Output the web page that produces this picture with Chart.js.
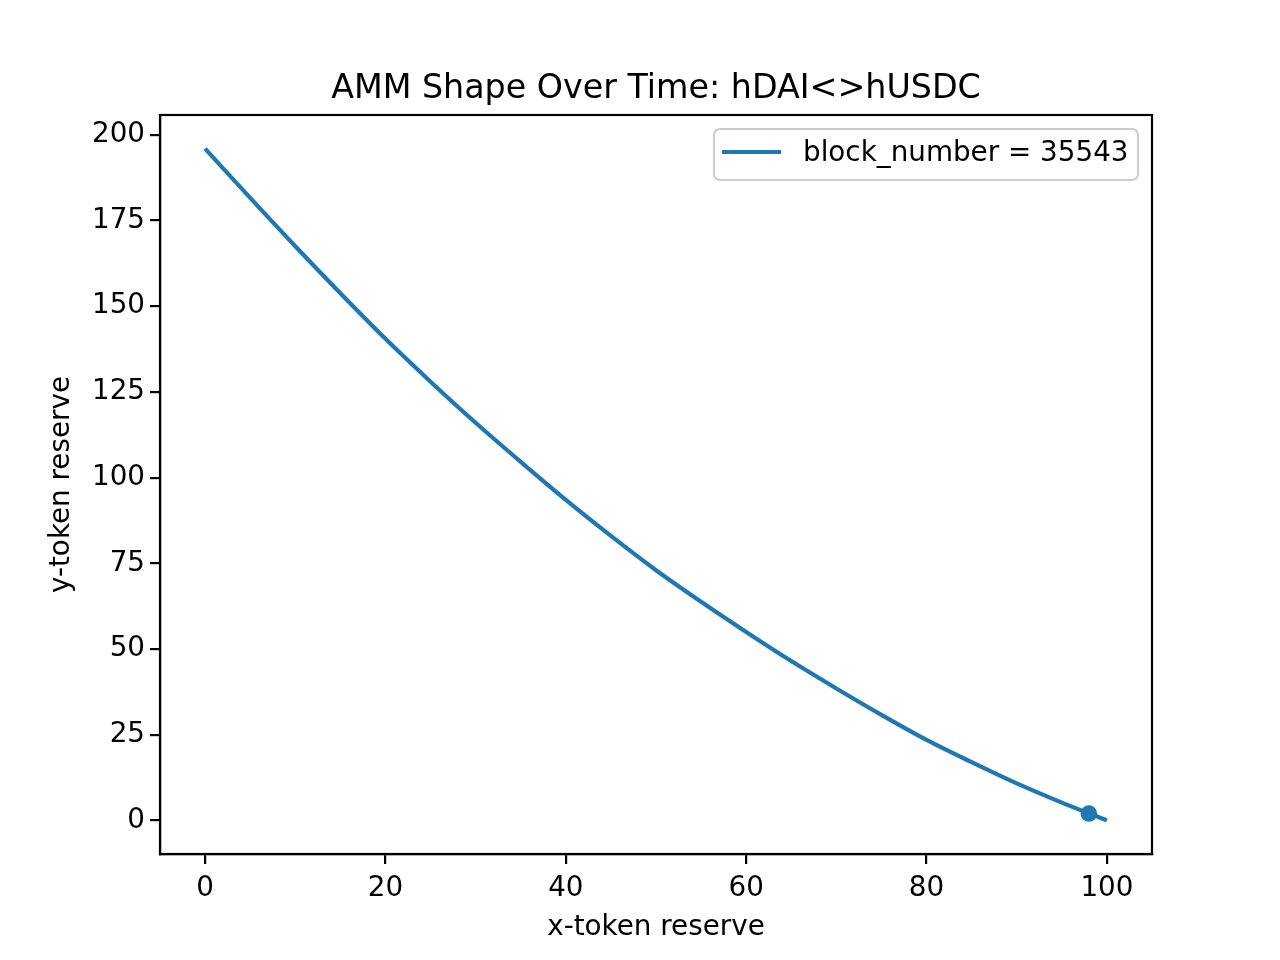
<!DOCTYPE html>
<html lang="en">
<head>
  <meta charset="UTF-8">
  <title>AMM Shape Over Time</title>
  <script src="https://cdn.jsdelivr.net/npm/chart.js"></script>
  <style>
    body { margin: 0; background: #fff; }
    #chart { display: block; }
  </style>
</head>
<body>
  <canvas id="chart" width="1280" height="960"></canvas>
  <script>
    // curve, x-token reserve vs y-token reserve
    const xReserve = [0, 5, 10, 15, 20, 25, 30, 35, 40, 45, 50, 55, 60, 65, 70, 75, 80, 85, 90, 95, 100];
    const yReserve = [196, 181.6, 167.5, 153.8, 140.5, 128, 116, 104.6, 93.5, 83, 73, 63.8, 55, 46.5, 38.5, 30.8, 23.5, 17, 10.8, 5.2, 0];
    const currentX = [98];
    const currentY = [2];
    const xTicks = [0, 20, 40, 60, 80, 100];
    const yTicks = [0, 25, 50, 75, 100, 125, 150, 175, 200];
    const seriesLabel = 'block_number = 35543';
    const chartTitle = 'AMM Shape Over Time: hDAI<>hUSDC';

    const blue = '#1f77b4';
    const font = '"DejaVu Sans", sans-serif';

    const curve = xReserve.map((x, i) => ({ x: x, y: yReserve[i] }));
    const current = currentX.map((x, i) => ({ x: x, y: currentY[i] }));

    // title over the axes, top/right spines and the boxed legend, matplotlib style
    const framePlugin = {
      id: 'frame',
      afterDraw(chart) {
        const ctx = chart.ctx;
        const a = chart.chartArea;
        ctx.save();
        ctx.strokeStyle = '#000';
        ctx.lineWidth = 2.2;
        ctx.strokeRect(a.left, a.top, a.right - a.left, a.bottom - a.top);

        ctx.fillStyle = '#000';
        ctx.font = '33.3px ' + font;
        ctx.textAlign = 'center';
        ctx.textBaseline = 'middle';
        ctx.fillText(chartTitle, (a.left + a.right) / 2, 89);

        const bx = 714, by = 129, bw = 424, bh = 51, r = 6;
        ctx.beginPath();
        ctx.roundRect(bx, by, bw, bh, r);
        ctx.fillStyle = 'rgba(255,255,255,0.8)';
        ctx.fill();
        ctx.strokeStyle = '#cccccc';
        ctx.lineWidth = 2;
        ctx.stroke();

        ctx.beginPath();
        ctx.moveTo(722, 152);
        ctx.lineTo(781, 152);
        ctx.strokeStyle = blue;
        ctx.lineWidth = 4.2;
        ctx.stroke();

        ctx.fillStyle = '#000';
        ctx.font = '27.8px ' + font;
        ctx.textAlign = 'left';
        ctx.textBaseline = 'middle';
        ctx.fillText(chart.data.datasets[0].label, 803, 154);
        ctx.restore();
      }
    };

    new Chart(document.getElementById('chart'), {
      type: 'line',
      data: {
        datasets: [
          {
            label: seriesLabel,
            data: curve,
            borderColor: blue,
            borderWidth: 4.2,
            pointRadius: 0,
            cubicInterpolationMode: 'monotone',
            fill: false,
            order: 2
          },
          {
            label: 'current',
            data: current,
            showLine: false,
            pointRadius: 8.3,
            pointBackgroundColor: blue,
            pointBorderColor: blue,
            pointBorderWidth: 0,
            order: 1
          }
        ]
      },
      options: {
        responsive: false,
        devicePixelRatio: 1,
        animation: false,
        layout: { padding: { left: 0, right: 128, top: 115, bottom: 0 } },
        plugins: {
          legend: { display: false },
          tooltip: { enabled: false },
          title: { display: false }
        },
        scales: {
          x: {
            type: 'linear',
            min: -5,
            max: 105,
            afterFit(scale) { scale.height = 106; },
            afterBuildTicks(scale) { scale.ticks = xTicks.map(v => ({ value: v })); },
            grid: { drawOnChartArea: false, color: '#000', lineWidth: 2.2, tickLength: 10 },
            border: { color: '#000', width: 2.2 },
            ticks: { color: '#000', font: { family: font, size: 27.8 }, padding: 8, maxRotation: 0 },
            title: {
              display: true,
              text: 'x-token reserve',
              color: '#000',
              font: { family: font, size: 27.8 },
              padding: { top: 0, bottom: 16 }
            }
          },
          y: {
            type: 'linear',
            min: -9.8,
            max: 205.8,
            afterFit(scale) { scale.width = 160; },
            afterBuildTicks(scale) { scale.ticks = yTicks.map(v => ({ value: v })); },
            grid: { drawOnChartArea: false, color: '#000', lineWidth: 2.2, tickLength: 10 },
            border: { color: '#000', width: 2.2 },
            ticks: { color: '#000', font: { family: font, size: 27.8 }, padding: 5 },
            title: {
              display: true,
              text: 'y-token reserve',
              color: '#000',
              font: { family: font, size: 27.8 },
              padding: { top: 45, bottom: 0 }
            }
          }
        }
      },
      plugins: [framePlugin]
    });
  </script>
</body>
</html>
